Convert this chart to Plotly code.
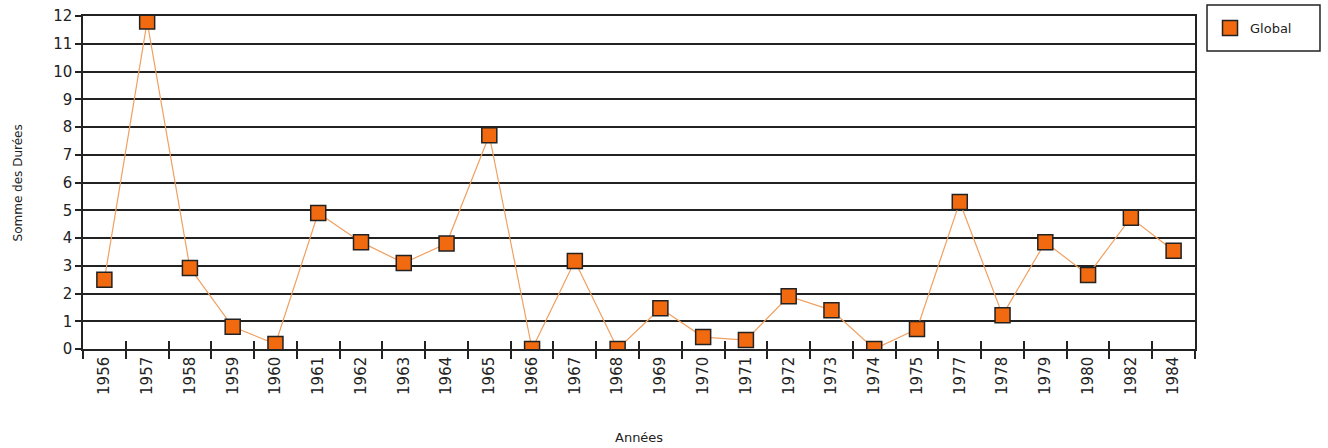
from plotly import graph_objects as go

# Data
years = ['1956', '1957', '1958', '1959', '1960', '1961', '1962', '1963', '1964', '1965',
         '1966', '1967', '1968', '1969', '1970', '1971', '1972', '1973', '1974', '1975',
         '1977', '1978', '1979', '1980', '1982', '1984']
durations = [2.5, 11.8, 2.92, 0.8, 0.18, 4.9, 3.85, 3.1, 3.8, 7.7,
             0.0, 3.17, 0.0, 1.47, 0.43, 0.32, 1.9, 1.4, 0.0, 0.72,
             5.3, 1.22, 3.85, 2.67, 4.73, 3.54]
y_ticks = list(range(0, 13))

font_family = 'DejaVu Sans'
ink = '#222222'

fig = go.Figure()
# connecting line (kept out of the legend, which only shows the square marker)
fig.add_trace(go.Scatter(x=years, y=durations, mode='lines', showlegend=False,
                         line=dict(color='#F0A060', width=1.2), hoverinfo='skip'))
fig.add_trace(go.Scatter(name='Global', x=years, y=durations, mode='markers',
                         marker=dict(symbol='square', size=15, color='#F26A10',
                                     line=dict(color=ink, width=1.5))))
# empty trace so that the overlay axis (inner half of the crossing ticks) gets drawn
fig.add_trace(go.Scatter(x=[], y=[], xaxis='x2', showlegend=False, hoverinfo='skip'))

boundaries = [i + 0.5 for i in range(len(years) - 1)]

fig.update_layout(
    width=1328, height=448,
    margin=dict(l=83, r=133, t=16, b=99, autoexpand=False),
    paper_bgcolor='white', plot_bgcolor='white',
    font=dict(family=font_family, size=12, color=ink),
    showlegend=True,
    legend=dict(x=1.0135, y=0.964, xanchor='left', yanchor='middle',
                borderwidth=0, bgcolor='rgba(0,0,0,0)', font=dict(size=13)),
    xaxis=dict(type='category', range=[-0.5, len(years) - 0.5], tickson='boundaries',
               ticks='outside', ticklen=8, tickwidth=1.5, tickcolor=ink, automargin=False,
               showline=True, linecolor=ink, linewidth=1.5, mirror=True,
               showgrid=False, tickangle=-90, tickfont=dict(size=15)),
    xaxis2=dict(overlaying='x', anchor='y', side='bottom', range=[-0.5, len(years) - 0.5],
                tickvals=boundaries, ticks='inside', ticklen=8, tickwidth=1.5, tickcolor=ink,
                showticklabels=False, showgrid=False, zeroline=False, showline=False,
                automargin=False),
    yaxis=dict(range=[0, 12], tickvals=y_ticks, ticks='outside', ticklen=6, tickwidth=1.5,
               tickcolor=ink, showline=True, linecolor=ink, linewidth=1.5, automargin=False,
               mirror=True, showgrid=True, gridcolor=ink, gridwidth=1.5,
               zeroline=False, tickfont=dict(size=15)),
    shapes=[dict(type='rect', xref='paper', yref='paper', x0=1.0108, x1=1.1124,
                 y0=0.895, y1=1.033, line=dict(color=ink, width=1.5))],
    annotations=[
        dict(text='Années', xref='paper', yref='paper', x=0.5, y=-0.265, yanchor='middle',
             showarrow=False, font=dict(size=13)),
        dict(text='Somme des Durées', xref='paper', yref='paper', x=-0.0585, y=0.5,
             textangle=-90, xanchor='center', showarrow=False, font=dict(size=12)),
    ],
)

# the page body has an 8px default margin; drop it so the figure fills the window
fig.write_html("out.html", config=dict(displayModeBar=False),
               post_script="document.body.style.margin='0';")
